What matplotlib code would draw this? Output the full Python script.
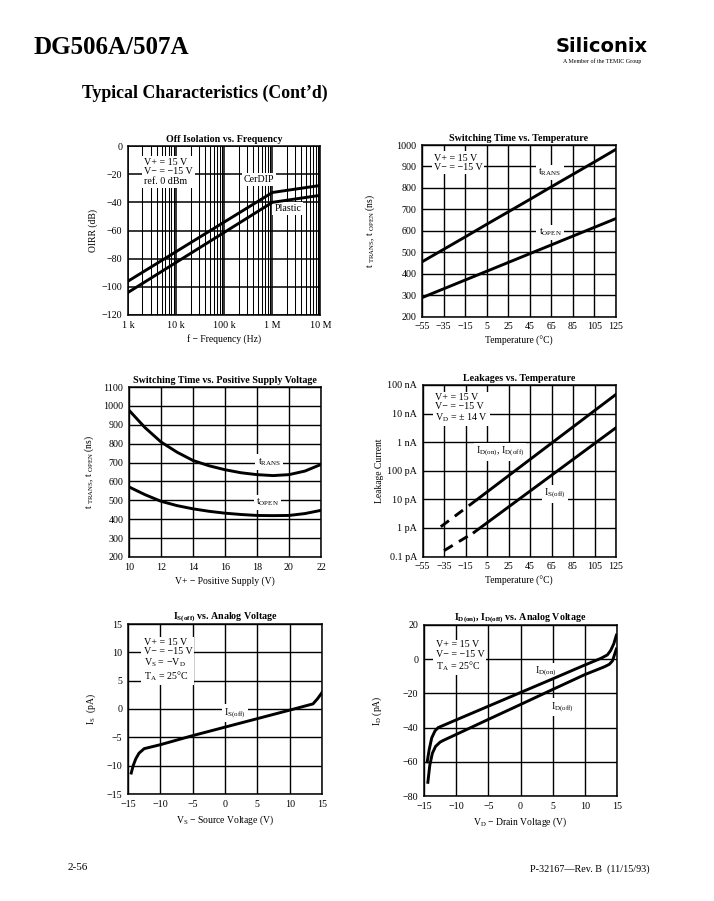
import numpy as np
import matplotlib
matplotlib.use("Agg")
import matplotlib.pyplot as plt
from matplotlib.ticker import FixedLocator, NullFormatter

# ---------------- data ----------------
# Off isolation vs frequency
iso_freq = [1e3, 1e6, 1e7]
iso_cerdip = [-96, -33, -28]
iso_plastic = [-104, -40, -35]
iso_xticks = [1e3, 1e4, 1e5, 1e6, 1e7]
iso_xlabels = ["1 k", "10 k", "100 k", "1 M", "10 M"]

# Switching time vs temperature
st_temp = [-55, -35, -15, 5, 25, 45, 65, 85, 105, 125]
st_trans = [455, 513, 571, 630, 688, 746, 805, 863, 921, 980]
st_open = [288, 329, 370, 411, 452, 493, 534, 575, 616, 657]

# Switching time vs positive supply
sv_v = [10, 11, 12, 13, 14, 15, 16, 17, 18, 19, 20, 21, 22]
sv_trans = [977, 885, 809, 755, 711, 683, 662, 646, 636, 631, 636, 655, 690]
sv_open = [571, 530, 495, 472, 455, 442, 432, 425, 420, 419, 420, 430, 447]

# Leakages vs temperature
lk_id_dash_t = [-38, -4]
lk_id_dash = [1.1e-12, 1.0e-11]
lk_id_t = [-4, 125]
lk_id = [1.0e-11, 4.7e-8]
lk_is_dash_t = [-35, -7]
lk_is_dash = [1.6e-13, 7e-13]
lk_is_t = [-7, 125]
lk_is = [7e-13, 3.2e-9]
lk_yticks = [1e-13, 1e-12, 1e-11, 1e-10, 1e-9, 1e-8, 1e-7]
lk_ylabels = ["0.1 pA", "1 pA", "10 pA", "100 pA", "1 nA", "10 nA", "100 nA"]

# Is(off) vs analog voltage
is_v = [-14.5, -14.2, -13.8, -13.3, -12.5, -10, -5, 0, 5, 10, 13.6, 14.3, 15]
is_i = [-11.3, -10.0, -8.8, -7.8, -7.0, -6.3, -4.7, -3.2, -1.7, -0.2, 0.9, 1.8, 2.9]

# Id(on), Id(off) vs analog voltage
id_on_v = [-14.5, -14.2, -13.8, -13.3, -12.8, -10, -5, 0, 5, 10, 12.5, 13.5, 14.0, 14.5, 14.9]
id_on_i = [-60, -53, -46, -42, -40, -35.5, -27.5, -19.5, -11.5, -3.4, 0.5, 2.5, 5, 9, 14]
id_off_v = [-14.4, -14.1, -13.7, -13.2, -12.5, -12, -10, -5, 0, 5, 10, 13.0, 13.8, 14.3, 14.9]
id_off_i = [-72, -62, -55, -51, -48.5, -47.5, -44, -35.2, -26.5, -17.7, -9, -4.5, -3, -1, 6]

# ---------------- style ----------------
W, H = 714, 901
plt.rcParams['font.family'] = ['Liberation Serif', 'DejaVu Serif']
plt.rcParams['mathtext.fontset'] = 'custom'
plt.rcParams['mathtext.rm'] = 'Liberation Serif'
plt.rcParams['mathtext.it'] = 'Liberation Serif:italic'
plt.rcParams['mathtext.bf'] = 'Liberation Serif:bold'

fig = plt.figure(figsize=(W / 100, H / 100), dpi=100)
LW = 2.1
TICK = 7.2
LAB = 6.9
ANN = 7.2
BOX = dict(facecolor='white', edgecolor='none', pad=1.5)


def fmt(vals):
    return ["\u2212%d" % -v if v < 0 else "%d" % v for v in vals]


def make_ax(l, t, r, b):
    ax = fig.add_axes([l / W, 1 - b / H, (r - l) / W, (b - t) / H])
    for s in ax.spines.values():
        s.set_linewidth(1.1)
        s.set_color('black')
    ax.tick_params(which='both', length=0, labelsize=TICK, pad=4)
    ax.set_axisbelow(True)
    return ax


def grid(ax, lw=1.0):
    ax.grid(True, which='major', color='black', linewidth=lw)


def ylab(ax, text, xpx, l, r):
    ax.set_ylabel(text, fontsize=LAB)
    ax.yaxis.set_label_coords((xpx - l) / (r - l), 0.5)


def xlab(ax, text):
    ax.set_xlabel(text, fontsize=LAB)
    ax.xaxis.set_label_coords(0.5, -0.115)


def title(ax, text):
    ax.set_title(text, fontsize=7.2, fontweight='bold', pad=3)


def ann(ax, x, y, text, **kw):
    ax.text(x, y, text, transform=ax.transAxes, fontsize=ANN, bbox=BOX,
            zorder=2, linespacing=1.05, **kw)


# ---------- 1: Off isolation ----------
ax = make_ax(128, 146, 320.5, 315)
ax.set_xscale('log')
ax.plot(iso_freq, iso_cerdip, color='black', lw=LW, zorder=3)
ax.plot(iso_freq, iso_plastic, color='black', lw=LW, zorder=3)
ax.set_xlim(1e3, 1e7)
ax.set_ylim(-120, 0)
ax.xaxis.set_major_locator(FixedLocator(iso_xticks))
ax.set_xticklabels(iso_xlabels)
minors = [m * 10 ** e for e in range(3, 7) for m in range(2, 10)]
ax.xaxis.set_minor_locator(FixedLocator(minors))
ax.xaxis.set_minor_formatter(NullFormatter())
y1 = list(range(-120, 1, 20))
ax.set_yticks(y1)
ax.set_yticklabels(fmt(y1))
ax.grid(True, which='major', color='black', linewidth=1.1)
ax.grid(True, which='minor', axis='x', color='black', linewidth=0.75)
ann(ax, 0.085, 0.93, "V+ = 15 V\nV\u2212 = \u221215 V\nref. 0 dBm", va='top', ha='left')
ann(ax, 0.68, 0.80, "CerDIP", va='center', ha='center')
ann(ax, 0.83, 0.63, "Plastic", va='center', ha='center')
title(ax, "Off Isolation vs. Frequency")
ylab(ax, "OIRR (dB)", 97.5, 128, 320.5)
xlab(ax, "f \u2212 Frequency (Hz)")

# ---------- 2: Switching time vs temperature ----------
ax = make_ax(422, 145, 616, 316.5)
ax.plot(st_temp, st_trans, color='black', lw=LW, zorder=3)
ax.plot(st_temp, st_open, color='black', lw=LW, zorder=3)
ax.set_xlim(-55, 125)
ax.set_ylim(200, 1000)
xt = list(range(-55, 126, 20))
ax.set_xticks(xt)
ax.set_xticklabels(fmt(xt))
ax.set_yticks(range(200, 1001, 100))
grid(ax)
ann(ax, 0.06, 0.95, "V+ = 15 V\nV\u2212 = \u221215 V", va='top', ha='left')
ann(ax, 0.66, 0.84, r"t$_{\rm RANS}$", va='center', ha='center')
ann(ax, 0.66, 0.49, r"t$_{\rm OPEN}$", va='center', ha='center')
title(ax, "Switching Time vs. Temperature")
ylab(ax, r"t $_{\rm TRANS}$, t $_{\rm OPEN}$ (ns)", 377, 422, 616)
xlab(ax, "Temperature (\u00b0C)")

# ---------- 3: Switching time vs supply ----------
ax = make_ax(129, 387, 321, 557)
ax.plot(sv_v, sv_trans, color='black', lw=LW, zorder=3)
ax.plot(sv_v, sv_open, color='black', lw=LW, zorder=3)
ax.set_xlim(10, 22)
ax.set_ylim(200, 1100)
ax.set_xticks(range(10, 23, 2))
ax.set_yticks(range(200, 1101, 100))
grid(ax)
ann(ax, 0.73, 0.56, r"t$_{\rm RANS}$", va='center', ha='center')
ann(ax, 0.72, 0.32, r"t$_{\rm OPEN}$", va='center', ha='center')
title(ax, "Switching Time vs. Positive Supply Voltage")
ylab(ax, r"t $_{\rm TRANS}$, t $_{\rm OPEN}$ (ns)", 96.5, 129, 321)
xlab(ax, "V+ \u2212 Positive Supply (V)")

# ---------- 4: Leakages vs temperature ----------
ax = make_ax(422.5, 385, 616, 556.5)
ax.set_yscale('log')
ax.plot(lk_id_dash_t, lk_id_dash, color='black', lw=LW, ls=(0, (3.5, 2.5)), zorder=3)
ax.plot(lk_id_t, lk_id, color='black', lw=LW, zorder=3)
ax.plot(lk_is_dash_t, lk_is_dash, color='black', lw=LW, ls=(0, (3.5, 2.5)), zorder=3)
ax.plot(lk_is_t, lk_is, color='black', lw=LW, zorder=3)
ax.set_xlim(-55, 125)
ax.set_ylim(1e-13, 1e-7)
ax.set_xticks(xt)
ax.set_xticklabels(fmt(xt))
ax.yaxis.set_major_locator(FixedLocator(lk_yticks))
ax.set_yticklabels(lk_ylabels)
ax.yaxis.set_minor_locator(FixedLocator([]))
grid(ax)
ann(ax, 0.065, 0.955, "V+ = 15 V\nV\u2212 = \u221215 V\nV$_{\\rm D}$ = \u00b1 14 V", va='top', ha='left')
ann(ax, 0.40, 0.61, r"I$_{\rm D(on)}$, I$_{\rm D(off)}$", va='center', ha='center')
ann(ax, 0.685, 0.365, r"I$_{\rm S(off)}$", va='center', ha='center')
title(ax, "Leakages vs. Temperature")
ylab(ax, "Leakage Current", 384, 422.5, 616)
xlab(ax, "Temperature (\u00b0C)")

# ---------- 5: Is(off) vs analog voltage ----------
ax = make_ax(128, 624, 322, 794)
ax.plot(is_v, is_i, color='black', lw=LW, zorder=3)
ax.set_xlim(-15, 15)
ax.set_ylim(-15, 15)
v5 = list(range(-15, 16, 5))
ax.set_xticks(v5)
ax.set_xticklabels(fmt(v5))
ax.set_yticks(v5)
ax.set_yticklabels(fmt(v5))
grid(ax)
ann(ax, 0.08, 0.92, "V+ = 15 V\nV\u2212 = \u221215 V\nV$_{\\rm S}$ = \u2212V$_{\\rm D}$\nT$_{\\rm A}$ = 25\u00b0C",
    va='top', ha='left')
ann(ax, 0.55, 0.476, r"I$_{\rm S(off)}$", va='center', ha='center')
title(ax, r"I$_{\mathbf{S(off)}}$ vs. Analog Voltage")
ylab(ax, r"I$_{\rm S}$  (pA)", 97.5, 128, 322)
xlab(ax, "V$_{\\rm S}$ \u2212 Source Voltage (V)")

# ---------- 6: Id vs analog voltage ----------
ax = make_ax(424, 625, 617, 796)
ax.plot(id_on_v, id_on_i, color='black', lw=LW, zorder=3)
ax.plot(id_off_v, id_off_i, color='black', lw=LW, zorder=3)
ax.set_xlim(-15, 15)
ax.set_ylim(-80, 20)
ax.set_xticks(v5)
ax.set_xticklabels(fmt(v5))
y6 = list(range(-80, 21, 20))
ax.set_yticks(y6)
ax.set_yticklabels(fmt(y6))
grid(ax)
ann(ax, 0.06, 0.91, "V+ = 15 V\nV\u2212 = \u221215 V\nT$_{\\rm A}$ = 25\u00b0C", va='top', ha='left')
ann(ax, 0.63, 0.73, r"I$_{\rm D(on)}$", va='center', ha='center')
ann(ax, 0.72, 0.52, r"I$_{\rm D(off)}$", va='center', ha='center')
title(ax, r"I$_{\mathbf{D(on)}}$, I$_{\mathbf{D(off)}}$ vs. Analog Voltage")
ylab(ax, r"I$_{\rm D}$ (pA)", 383.5, 424, 617)
xlab(ax, "V$_{\\rm D}$ \u2212 Drain Voltage (V)")

# ---------- page text ----------
fig.text(34 / W, 1 - 47 / H, "DG506A/507A", fontsize=18, fontweight='bold', ha='left', va='center')
fig.text(82 / W, 1 - 93 / H, "Typical Characteristics (Cont\u2019d)", fontsize=12.8, fontweight='bold',
         ha='left', va='center')
fig.text(602 / W, 1 - 46 / H, "Siliconix", fontsize=14, fontweight='bold', family='DejaVu Sans',
         ha='center', va='center')
fig.text(602 / W, 1 - 61 / H, "A Member of the TEMIC Group", fontsize=4.3, ha='center', va='center')
fig.text(68 / W, 1 - 868 / H, "2-56", fontsize=8, ha='left', va='center')
fig.text(650 / W, 1 - 869 / H, "P-32167\u2014Rev. B  (11/15/93)", fontsize=7.3, ha='right', va='center')

fig.savefig("out.png", dpi=100)
